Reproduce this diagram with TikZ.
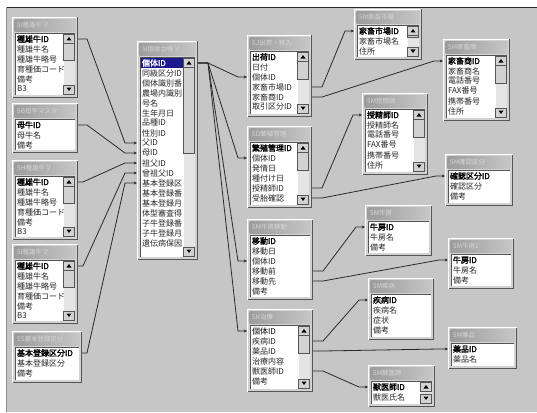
\documentclass[tikz,border=0pt]{standalone}
\usepackage{fontspec}
\setmainfont{Noto Sans CJK JP}[AutoFakeBold=2]
\usetikzlibrary{arrows.meta}
\definecolor{bgray}{HTML}{C6C6C6}
\definecolor{tblface}{HTML}{D2D2D2}
\definecolor{tbldark}{HTML}{555555}
\definecolor{titleA}{HTML}{9C9C9C}
\definecolor{titleB}{HTML}{C6C6C6}
\definecolor{titletxt}{HTML}{D6D6D6}
\definecolor{scrollbg}{HTML}{E4E4E4}
\definecolor{selblue}{HTML}{1A1A8C}
\definecolor{linec}{HTML}{2A2A2A}
\newcommand\rowfont{\fontsize{8}{8}\selectfont}
\tikzset{
  rowtxt/.style={anchor=west,inner sep=0pt,outer sep=0pt},
  titletext/.style={anchor=west,inner sep=0pt,text=titletxt,font=\fontsize{6.5}{7}\selectfont},
  conn/.style={draw=linec,line width=0.8pt,-{Stealth[length=3.2pt,width=3pt]}},
}
% name, x, y, width, height, title, scroll(0/1), first(0 plain,1 bold,2 selected), rows
\newcommand\dbtable[9]{%
\begin{scope}[shift={(#2,#3)}]
  \fill[tblface] (0,0) rectangle (#4,#5);
  \draw[white,line width=1pt] (0.5,#5-0.5) -- (0.5,0.5) -- (#4-0.5,0.5);
  \draw[tbldark,line width=1.2pt] (#4-0.5,0.5) -- (#4-0.5,#5-0.5) -- (0.5,#5-0.5);
  \shade[left color=titleA,right color=titleB] (2.5,2.5) rectangle (#4-2.5,14.5);
  \node[titletext] (#1-t) at (5,8.5) {#6};
  \fill[white] (3,16.5) rectangle (#4-3,#5-3);
  \draw[tbldark,line width=0.9pt] (3,#5-3) -- (3,16.5) -- (#4-3,16.5);
  \foreach[count=\i] \r in {#9}{%
    \pgfmathsetmacro\yy{22+(\i-1)*10}%
    \ifnum\i=1
      \ifcase#8 \gdef\rf{}\gdef\rc{black}%
      \or \gdef\rf{\bfseries}\gdef\rc{black}%
      \or \gdef\rf{\bfseries}\gdef\rc{white}\fill[selblue] (4,\yy-5) rectangle (#4-15,\yy+5);%
      \fi
    \else \gdef\rf{}\gdef\rc{black!85}\fi
    \node[rowtxt,text=\rc,font=\rowfont\rf] (#1-\i) at (5,\yy) {\r};
    \coordinate (#1-\i-w) at (0,\yy);
    \coordinate (#1-\i-e) at (#4,\yy);
  }
  \ifnum#7=1
    \fill[scrollbg] (#4-14.5,17) rectangle (#4-3.5,#5-3.5);
    \fill[tblface] (#4-14.5,26) rectangle (#4-3.5,{26+(#5-46)/2});
    \draw[tbldark,line width=0.5pt] (#4-14.5,26) rectangle (#4-3.5,{26+(#5-46)/2});
    \fill[tblface] (#4-14.5,17) rectangle (#4-3.5,26);
    \draw[tbldark,line width=0.5pt] (#4-14.5,17) rectangle (#4-3.5,26);
    \fill[black] (#4-11.5,23.5) -- (#4-6.5,23.5) -- (#4-9,20) -- cycle;
    \fill[tblface] (#4-14.5,#5-13) rectangle (#4-3.5,#5-4);
    \draw[tbldark,line width=0.5pt] (#4-14.5,#5-13) rectangle (#4-3.5,#5-4);
    \fill[black] (#4-11.5,#5-10.5) -- (#4-6.5,#5-10.5) -- (#4-9,#5-7) -- cycle;
  \fi
\end{scope}}
\begin{document}
\begin{tikzpicture}[x=1pt,y=-1pt]
\useasboundingbox (0,0) rectangle (537,412);
\fill[white] (0,0) rectangle (537,412);
\fill[bgray] (6,7) rectangle (537,412);
\draw[black!85,line width=1.5pt] (6,7.5) -- (537,7.5);
\draw[black!45,line width=0.8pt] (6.4,7) -- (6.4,412);

% left tables
\dbtable{la}{12}{17}{66}{81}{5I種雄牛マ}{1}{1}{種雄牛ID,種雄牛名,種雄牛略号,育種価コード,備考,B3}
\dbtable{lb}{12}{103}{66}{50}{5B母牛マスタ}{0}{1}{母牛ID,母牛名,備考}
\dbtable{lc}{12}{160}{66}{80}{5H種雄牛マ}{1}{1}{種雄牛ID,種雄牛名,種雄牛略号,育種価コード,備考,B3}
\dbtable{ld}{12}{244}{66}{80}{5I種雄牛マ}{1}{1}{種雄牛ID,種雄牛名,種雄牛略号,育種価コード,備考,B3}
\dbtable{le}{12}{331}{70}{52}{5S基本登録区分}{0}{1}{基本登録区分ID,基本登録区分,備考}

% center table
\dbtable{ctr}{137}{41}{61}{219}{5I個体台帳マ}{1}{2}{個体ID,同級区分ID,個体識別番,農場内識別,号名,生年月日,品種ID,性別ID,父ID,母ID,祖父ID,曾祖父ID,基本登録区,基本登録番,基本登録月,体型審査得,子牛登録番,子牛登録月,遺伝病保因}

% middle column
\dbtable{ta}{247}{35}{65}{82}{5J出荷・移入}{1}{1}{出荷ID,日付,個体ID,家畜市場ID,家畜商ID,取引区分ID}
\dbtable{tb}{247}{126}{65}{82}{5D繁殖管理}{1}{1}{繁殖管理ID,個体ID,発情日,種付け日,授精師ID,受胎確認}
\dbtable{tc}{247}{219}{66}{81}{5M牛房移動}{0}{1}{移動ID,移動日,個体ID,移動前,移動先,備考}
\dbtable{td}{247}{309}{66}{83}{5K治療}{1}{0}{個体ID,疾病ID,薬品ID,治療内容,獣医師ID,備考}

% right tables
\dbtable{te}{354}{9}{68}{51}{5M家畜市場}{1}{1}{家畜市場ID,家畜市場名,住所}
\dbtable{tf}{443}{39}{67}{82}{5M家畜商}{1}{1}{家畜商ID,家畜商名,電話番号,FAX番号,携帯番号,住所}
\dbtable{tg}{362}{93}{66}{82}{5M授精師}{1}{1}{授精師ID,授精師名,電話番号,FAX番号,携帯番号,住所}
\dbtable{th}{445}{154}{68}{52}{5M確認区分}{0}{1}{確認区分ID,確認区分,備考}
\dbtable{ti}{365}{205}{67}{51}{5M牛房}{0}{1}{牛房ID,牛房名,備考}
\dbtable{tj}{448}{238}{66}{51}{5M牛房1}{0}{1}{牛房ID,牛房名,備考}
\dbtable{tk}{368}{278}{66}{62}{5M疾病}{0}{1}{疾病ID,疾病名,症状,備考}
\dbtable{tl}{448}{327}{69}{42}{5M薬品}{0}{1}{薬品ID,薬品名}
\dbtable{tm}{368}{365}{67}{42}{5M獣医師}{1}{1}{獣医師ID,獣医氏名}

% connectors: left -> center
\draw[conn] (la-1-e) -- ++(9,0) -- ([xshift=-12pt]ctr-9-w) -- (ctr-9-w);
\draw[conn] (lb-1-e) -- ++(9,0) -- ([xshift=-12pt]ctr-10-w) -- (ctr-10-w);
\draw[conn] (lc-1-e) -- ++(5,0) -- ([xshift=-12pt]ctr-11-w) -- (ctr-11-w);
\draw[conn] (ld-1-e) -- ++(5,0) -- ([xshift=-12pt]ctr-12-w) -- (ctr-12-w);
\draw[conn] (le-1-e) -- ++(5,0) -- ([xshift=-12pt]ctr-13-w) -- (ctr-13-w);
% center -> middle
\draw[conn] (ctr-1-e) -- ++(10,0) -- ([xshift=-9pt]ta-3-w) -- (ta-3-w);
\draw[conn] (ctr-1-e) -- ++(10,0) -- ([xshift=-9pt]tb-2-w) -- (tb-2-w);
\draw[conn] (ctr-1-e) -- ++(10,0) -- ([xshift=-9pt]tc-3-w) -- (tc-3-w);
\draw[conn] (ctr-1-e) -- ++(10,0) -- ([xshift=-9pt]td-1-w) -- (td-1-w);
% middle -> right
\draw[conn] (ta-4-e) -- ++(10,0) -- ([xshift=-9pt]te-1-w) -- (te-1-w);
\draw[conn] (ta-5-e) -- ++(10,0) -- ([xshift=-9pt]tf-1-w) -- (tf-1-w);
\draw[conn] (tb-5-e) -- ++(10,0) -- ([xshift=-9pt]tg-1-w) -- (tg-1-w);
\draw[conn] (tb-6-e) -- ++(10,0) -- ([xshift=-9pt]th-1-w) -- (th-1-w);
\draw[conn] (tc-4-e) -- ++(10,0) -- ([xshift=-9pt]ti-1-w) -- (ti-1-w);
\draw[conn] (tc-5-e) -- ++(10,0) -- ([xshift=-9pt]tj-1-w) -- (tj-1-w);
\draw[conn] (td-2-e) -- ++(10,0) -- ([xshift=-9pt]tk-1-w) -- (tk-1-w);
\draw[conn] (td-3-e) -- ++(10,0) -- ([xshift=-9pt]tl-1-w) -- (tl-1-w);
\draw[conn] (td-5-e) -- ++(10,0) -- ([xshift=-9pt]tm-1-w) -- (tm-1-w);
\end{tikzpicture}
\end{document}
